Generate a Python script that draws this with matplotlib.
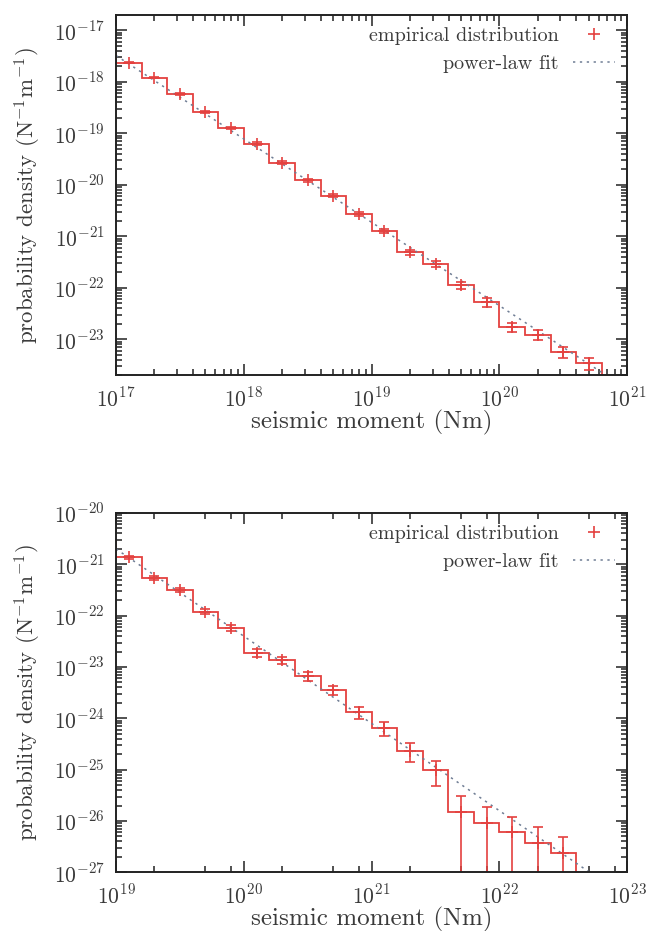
# distribución de momentos sísmicos: histograma + ajuste de ley de potencias
import matplotlib
matplotlib.use('Agg')
import matplotlib.pyplot as plt
import numpy as np
from matplotlib.lines import Line2D
from matplotlib.ticker import LogLocator, FuncFormatter, NullFormatter

plt.rcParams['font.family'] = 'cmr10'
plt.rcParams['mathtext.fontset'] = 'cm'
plt.rcParams['axes.unicode_minus'] = False
plt.rcParams['axes.formatter.use_mathtext'] = True

rojo = '#e4413f'
gris = '#6f7d94'
texto = '#3a3a3a'

# panel superior (exponentes log10)
sup_centros = [17.1, 17.3, 17.5, 17.7, 17.9, 18.1, 18.3, 18.5, 18.7, 18.9,
               19.1, 19.3, 19.5, 19.7, 19.9, 20.1, 20.3, 20.5, 20.7]
sup_logp = [-17.63, -17.92, -18.24, -18.58, -18.89, -19.20, -19.57, -19.91, -20.21, -20.56,
            -20.90, -21.31, -21.53, -21.95, -22.28, -22.76, -22.91, -23.25, -23.46]
sup_err = [0.03, 0.035, 0.04, 0.045, 0.05, 0.055, 0.06, 0.07, 0.08, 0.09,
           0.10, 0.12, 0.14, 0.16, 0.18, 0.21, 0.20, 0.23, 0.26]
sup_previo = -17.40          # bin anterior (fuera del rango, solo se ve el escalón)
sup_ajuste = (17.0, -17.49, -1.62)   # (log M0, log p en M0, pendiente)

# panel inferior
inf_centros = [19.1, 19.3, 19.5, 19.7, 19.9, 20.1, 20.3, 20.5, 20.7, 20.9,
               21.1, 21.3, 21.5, 21.7, 21.9, 22.1, 22.3, 22.5]
inf_logp = [-20.86, -21.26, -21.50, -21.92, -22.24, -22.72, -22.87, -23.18, -23.44, -23.88,
            -24.18, -24.63, -25.01, -25.82, -26.03, -26.22, -26.42, -26.62]
inf_err = [0.066, 0.083, 0.087, 0.11, 0.13, 0.18, 0.17, 0.19, 0.20, 0.27,
           0.30, 0.41, 0.50, 1.0, 1.0, 1.0, 1.0, 1.0]
inf_previo = -20.55
inf_ajuste = (19.0, -20.70, -1.70)

def fmt(v, p):
    return r'$10^{%d}$' % int(round(np.log10(v)))

def panel(ax, centros, logp, err, previo, ajuste, xlim, ylim, xsubs):
    lc = np.array(centros)
    d = lc[1] - lc[0]
    lc_all = np.insert(lc, 0, lc[0] - d)
    vals = 10.0 ** np.insert(np.array(logp), 0, previo)
    bordes = 10.0 ** np.append(lc_all - d / 2, lc_all[-1] + d / 2)
    ax.stairs(vals, bordes, baseline=1e-40, color=rojo, lw=1.3)

    # línea de ajuste
    x0, y0, b = ajuste
    xs = np.linspace(xlim[0], xlim[1], 50)
    ax.plot(10.0 ** xs, 10.0 ** (y0 + b * (xs - x0)), color=gris, lw=1.1, ls=(0, (1.5, 3)))

    x = 10.0 ** lc
    y = 10.0 ** np.array(logp)
    e = np.minimum(np.array(err), 0.99999)
    ax.errorbar(x, y, yerr=[y * e, y * np.array(err)], fmt='+', color=rojo, ms=8,
                mew=1.2, elinewidth=1.2, capsize=3.5, capthick=1.2)

    ax.set_xscale('log')
    ax.set_yscale('log')
    ax.set_xlim(10.0 ** xlim[0], 10.0 ** xlim[1])
    ax.set_ylim(10.0 ** ylim[0], 10.0 ** ylim[1])
    ax.xaxis.set_minor_locator(LogLocator(base=10, subs=xsubs, numticks=30))
    ax.yaxis.set_minor_locator(LogLocator(base=10, subs=np.arange(2, 10), numticks=30))
    for eje in (ax.xaxis, ax.yaxis):
        eje.set_major_locator(LogLocator(base=10, numticks=30))
        eje.set_major_formatter(FuncFormatter(fmt))
        eje.set_minor_formatter(NullFormatter())
    ax.tick_params(which='both', direction='in', top=True, right=True,
                   labelsize=15.5, labelcolor=texto, width=1.1, color='#222222')
    ax.tick_params(which='major', length=8, pad=8)
    ax.tick_params(which='minor', length=4)
    for s in ax.spines.values():
        s.set_linewidth(1.4)
        s.set_color('#222222')
    ax.set_xlabel('seismic moment (Nm)', fontsize=18, color=texto, labelpad=0)
    ax.set_ylabel(r'probability density (N$^{-1}$m$^{-1}$)', fontsize=16.5, color=texto, labelpad=8)

    h = [Line2D([], [], ls='none', marker='+', color=rojo, ms=8, mew=1.2),
         Line2D([], [], color=gris, lw=1.1, ls=(0, (1.5, 3)))]
    ax.legend(h, ['empirical distribution', 'power-law fit'], loc='upper right',
              markerfirst=False, frameon=False, fontsize=14.5, handlelength=2.1,
              handletextpad=0.7, labelspacing=0.5, borderpad=0.3, borderaxespad=0.3,
              labelcolor=texto)

fig = plt.figure(figsize=(6.48, 9.31), dpi=100)
ax1 = fig.add_axes([0.179, 0.597, 0.789, 0.387])
ax2 = fig.add_axes([0.179, 0.063, 0.789, 0.386])

panel(ax1, sup_centros, sup_logp, sup_err, sup_previo, sup_ajuste, (17, 21), (-23.7, -16.7),
      np.arange(2, 10))
panel(ax2, inf_centros, inf_logp, inf_err, inf_previo, inf_ajuste, (19, 23), (-27, -20),
      [2, 5, 8])

plt.savefig('out.png', dpi=100)
